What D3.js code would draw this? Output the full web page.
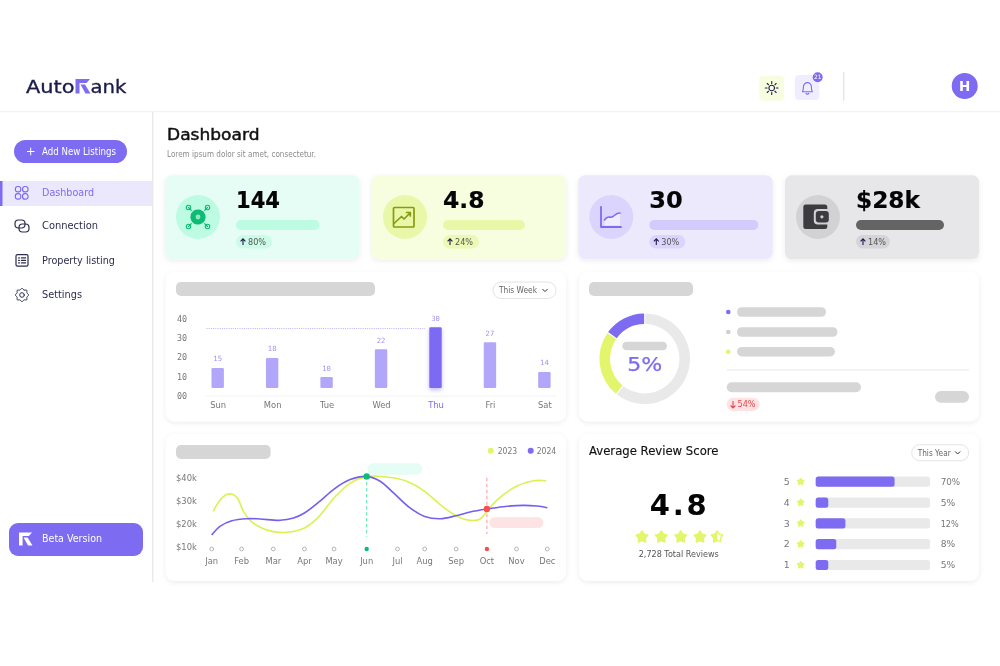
<!DOCTYPE html>
<html>
<head>
<meta charset="utf-8">
<script src="https://cdn.jsdelivr.net/npm/d3@7"></script>
<style>
  html, body { margin: 0; padding: 0; background: #fff; }
  svg { display: block; font-family: "DejaVu Sans", sans-serif; filter: blur(0.3px); }
  .mono text, text.mono { font-family: "DejaVu Sans Mono", monospace; }
</style>
</head>
<body>
<svg width="1000" height="666" viewBox="0 0 1000 666"></svg>
<script>
// week bars
const days = ["Sun", "Mon", "Tue", "Wed", "Thu", "Fri", "Sat"];
const dayLabels = [15, 18, 10, 22, 30, 27, 14];
const dayBars = [14.3, 19.5, 9.6, 24, 35.4, 27.6, 12.2];
const barFloor = 4;
const weekTicks = [0, 10, 20, 30, 40];
const weekGoal = 34.7;

// donut
const donutValues = [61, 24, 15];
const donutColors = ["#e9e9e9", "#e3f56b", "#7d6bf2"];

// revenue lines, month position + value in $k
const months = ["Jan", "Feb", "Mar", "Apr", "May", "Jun", "Jul", "Aug", "Sep", "Oct", "Nov", "Dec"];
const monthPos = [0, 0.98, 2.02, 3.04, 4.01, 5.08, 6.09, 6.98, 8.01, 9.02, 9.99, 11];
const moneyTicks = [10, 20, 30, 40];
const pos2024 = [0, 0.27, 0.66, 1.15, 1.58, 2.24, 2.68, 3.04, 3.55, 4.01, 4.54, 5.08, 5.52, 5.96, 6.5, 6.98, 7.49, 8.01, 8.47, 9.02, 9.56, 10.22, 10.66, 11];
const val2024 = [15.2, 19, 21.4, 22.3, 22.2, 21.6, 22.6, 24.8, 29.9, 35.2, 39.3, 40.7, 38.6, 33.5, 27, 23.3, 22.3, 23.6, 25.2, 26.5, 27.5, 28.1, 27.8, 27.1];
const pos2023 = [0.05, 0.27, 0.49, 0.66, 0.84, 1.04, 1.26, 1.58, 2.02, 2.46, 3.04, 3.44, 4.01, 4.54, 5.08, 5.74, 6.39, 6.98, 7.49, 8.01, 8.47, 8.8, 9.02, 9.34, 9.99, 10.55, 10.96];
const val2023 = [25.5, 30.3, 32.8, 33, 31.3, 25.5, 21.6, 18.6, 16.7, 16.4, 18.3, 22.2, 31.3, 37.8, 40.6, 40.4, 38.6, 34.2, 28.4, 23.6, 21.6, 22.2, 25.5, 30.3, 36.4, 38.8, 38.8];

// reviews
const ratingRows = [5, 4, 3, 2, 1];
const ratingLabels = ["70%", "5%", "12%", "8%", "5%"];
const ratingBars = [69, 11, 26, 18, 11];

// kpi cards
const kpiValues = ["144", "4.8", "30", "$28k"];
const kpiChanges = ["80%", "24%", "30%", "14%"];
const kpiBars = [83.5, 82, 109, 88];
const kpiBg = ["#e6fdf5", "#f7fddf", "#ece9fc", "#e7e7ea"];
const kpiCircle = ["#bdfbe2", "#e9f7a9", "#dbd5fd", "#d2d2d4"];
const kpiBarFill = ["#bdfbe2", "#e9f7a9", "#d3cbfc", "#646464"];
const kpiPill = ["#ccfbe9", "#ecf9b4", "#dbd5fd", "#d5d5d9"];

const navItems = ["Dashboard", "Connection", "Property listing", "Settings"];

const purple = "#7d6bf2", lime = "#e3f56b", grey = "#d6d6d6", ink = "#1c1c4a";

const svg = d3.select("svg");

const defs = svg.append("defs");
const shadow = defs.append("filter").attr("id", "soft").attr("x", "-5%").attr("y", "-5%").attr("width", "110%").attr("height", "115%");
shadow.append("feDropShadow").attr("dx", 0).attr("dy", 1.5).attr("stdDeviation", 2.5).attr("flood-color", "#000").attr("flood-opacity", 0.08);
const barGlow = defs.append("filter").attr("id", "glow").attr("x", "-60%").attr("y", "-10%").attr("width", "220%").attr("height", "125%");
barGlow.append("feDropShadow").attr("dx", 0).attr("dy", 2).attr("stdDeviation", 2).attr("flood-color", purple).attr("flood-opacity", 0.45);
defs.append("clipPath").attr("id", "halfStar").append("rect").attr("x", -10).attr("y", -10).attr("width", 10).attr("height", 20);

function rect(g, x, y, w, h, fill, r) {
  return g.append("rect").attr("x", x).attr("y", y).attr("width", w).attr("height", h).attr("fill", fill).attr("rx", r || 0);
}

// len stretches the text to the width measured on the picture
function label(g, x, y, str, size, fill, opts) {
  opts = opts || {};
  const t = g.append("text").attr("x", x).attr("y", y).text(str)
    .attr("font-size", size).attr("fill", fill)
    .attr("font-weight", opts.weight || 400)
    .attr("text-anchor", opts.anchor || "start");
  if (opts.len) t.attr("textLength", opts.len).attr("lengthAdjust", opts.adjust || "spacingAndGlyphs");
  if (opts.stroke) t.attr("stroke", fill).attr("stroke-width", opts.stroke);
  return t;
}

function icon(x, y, s) {
  return svg.append("g").attr("transform", `translate(${x},${y}) scale(${s || 1})`)
    .attr("fill", "none").attr("stroke-linecap", "round").attr("stroke-linejoin", "round");
}

function logoMark(x, y, s, color) {
  const g = svg.append("g").attr("transform", `translate(${x},${y}) scale(${s})`);
  g.append("path").attr("d", "M0 0H14.5L11 4H4V14.5H0Z").attr("fill", color);
  g.append("path").attr("d", "M5 5.5H9.5L15 14.5H10Z").attr("fill", color);
}

function chevron(x, y) {
  svg.append("path").attr("d", `M${x - 2.5} ${y - 1.2}L${x} ${y + 1.3}L${x + 2.5} ${y - 1.2}`)
    .attr("fill", "none").attr("stroke", "#333").attr("stroke-width", 1);
}

function dropdown(x, y, w, h, str, textLen) {
  rect(svg, x, y, w, h, "#fff", h / 2).attr("stroke", "#e4e4e4");
  label(svg, x + 6, y + h / 2 + 2.8, str, 8, "#666", { len: textLen });
  chevron(x + w - 11, y + h / 2);
}

// chubby five point star, the symbolStar one is too spiky here
function starPath(r) {
  const pts = d3.range(10).map(i => [i * Math.PI / 5, i % 2 ? r * 0.58 : r]);
  return d3.lineRadial().curve(d3.curveLinearClosed)(pts);
}

// header
svg.append("line").attr("x1", 0).attr("x2", 1000).attr("y1", 111.7).attr("y2", 111.7).attr("stroke", "#efeff1");
svg.append("line").attr("x1", 152.7).attr("x2", 152.7).attr("y1", 112).attr("y2", 582).attr("stroke", "#e9e9ec").attr("stroke-width", 1.4);

label(svg, 26, 93, "Auto", 18, ink, { len: 48.5, stroke: 0.35 });
logoMark(75.5, 79, 1, purple);
label(svg, 90.5, 93, "ank", 18, ink, { len: 36, stroke: 0.35 });

rect(svg, 759.3, 75.7, 24.7, 25, "#f7fddf", 4);
const sun = icon(771.7, 88).attr("stroke", ink).attr("stroke-width", 1.1);
sun.append("circle").attr("r", 2.8);
d3.range(8).forEach(i => {
  const a = i * Math.PI / 4;
  sun.append("line").attr("x1", 4.6 * Math.cos(a)).attr("y1", 4.6 * Math.sin(a)).attr("x2", 6.4 * Math.cos(a)).attr("y2", 6.4 * Math.sin(a));
});

rect(svg, 795, 75, 24.3, 25, "#f0eefe", 4);
icon(807.4, 88).attr("stroke", purple).attr("stroke-width", 1.1)
  .append("path").attr("d", "M-5 3.8C-4 2.5-4 1-4-1A4 4.4 0 0 1 4-1C4 1 4 2.5 5 3.8ZM-1.4 5.2A1.5 1.5 0 0 0 1.4 5.2");
svg.append("circle").attr("cx", 817.7).attr("cy", 77.3).attr("r", 5).attr("fill", purple);
label(svg, 817.7, 79.4, "21", 6, "#fff", { anchor: "middle" });

svg.append("line").attr("x1", 843.7).attr("x2", 843.7).attr("y1", 72).attr("y2", 100.7).attr("stroke", "#e6e6ea").attr("stroke-width", 1.5);
svg.append("circle").attr("cx", 964.7).attr("cy", 86).attr("r", 13).attr("fill", purple);
label(svg, 964.7, 91, "H", 13.5, "#fff", { anchor: "middle", weight: 600 });

// sidebar
rect(svg, 14, 140, 113, 23, purple, 11.5);
svg.append("path").attr("d", "M27 151.5H34.5M30.7 147.7V155.3").attr("stroke", "#fff").attr("stroke-width", 1);
label(svg, 42, 155, "Add New Listings", 9.8, "#fff", { len: 74 });

rect(svg, 0, 181, 152, 25, "#ebe8fd");
rect(svg, 0, 181, 2.5, 25, purple);

const navY = [192.6, 225.7, 260, 294.5];
navItems.forEach((n, i) => {
  label(svg, 42, navY[i] + 3.6, n, 10, i === 0 ? purple : "#2c2c4e", { len: [52, 56, 73, 40][i] });
});

const dash = icon(21.7, 192.8).attr("stroke", purple).attr("stroke-width", 1.2);
[[-3.6, -3.6], [3.6, -3.6], [-3.6, 3.6], [3.6, 3.6]].forEach(p => {
  dash.append("rect").attr("x", p[0] - 2.7).attr("y", p[1] - 2.7).attr("width", 5.4).attr("height", 5.4).attr("rx", 2.2);
});
const conn = icon(22, 226).attr("stroke", "#2c2c4e").attr("stroke-width", 1.2);
conn.append("rect").attr("x", -7).attr("y", -6).attr("width", 10).attr("height", 8).attr("rx", 3.5);
conn.append("rect").attr("x", -3).attr("y", -2).attr("width", 10).attr("height", 8).attr("rx", 3.5);
const prop = icon(22, 260.4).attr("stroke", "#2c2c4e").attr("stroke-width", 1.2);
prop.append("rect").attr("x", -6).attr("y", -5.8).attr("width", 12).attr("height", 11.6).attr("rx", 1.4);
[-2.5, 0, 2.5].forEach(y => {
  prop.append("path").attr("d", `M-3.4 ${y}H-2.6M-.6 ${y}H3.6`);
});
const gear = icon(22, 295).attr("stroke", "#2c2c4e").attr("stroke-width", 1);
gear.append("circle").attr("r", 2.3);
gear.append("path").attr("d", d3.lineRadial().curve(d3.curveCardinalClosed.tension(0.4))(
  d3.range(16).map(i => [i * Math.PI / 8, i % 2 ? 5.3 : 6.8])));

rect(svg, 9, 523, 134, 33, purple, 9);
logoMark(19, 532.5, 0.9, "#fff");
label(svg, 42, 542.2, "Beta Version", 10, "#fff", { len: 60 });

// page title
label(svg, 167, 140, "Dashboard", 15.5, "#111", { len: 92.5, stroke: 0.45 });
label(svg, 167, 157.3, "Lorem ipsum dolor sit amet, consectetur.", 8, "#8a8a8a", { len: 149 });

// kpi cards
const kpiX = [165, 372, 578.3, 785];
const kpiW = [194.5, 194, 194.4, 194];
kpiValues.forEach((v, i) => {
  const x = kpiX[i];
  rect(svg, x, 175.3, kpiW[i], 84, kpiBg[i], 7).attr("filter", "url(#soft)");
  svg.append("circle").attr("cx", x + 33).attr("cy", 217).attr("r", 22).attr("fill", kpiCircle[i]);
  label(svg, x + 71, 207.8, v, 23, "#050505", { weight: 700, len: [44, 41.5, 33.5, 64][i], stroke: 0.2 });
  rect(svg, x + 71, 220, kpiBars[i], 10, kpiBarFill[i], 5);
  rect(svg, x + 71, 235, [36, 36, 36, 34][i], 13.5, kpiPill[i], 6.7);
  svg.append("path").attr("d", `M${x + 78} ${245}V${239}M${x + 75.6} ${241.3}L${x + 78} ${238.8}L${x + 80.4} ${241.3}`)
    .attr("fill", "none").attr("stroke", ink).attr("stroke-width", 1.1);
  label(svg, x + 83, 244.8, kpiChanges[i], 8, "#555", { len: 18 });
});

// kpi icons
const hub = icon(198, 217).attr("stroke", "#0dbb75").attr("stroke-width", 1.1);
[[-9.5, -9.5], [9.5, -9.5], [-9.5, 9.5], [9.5, 9.5]].forEach(p => {
  hub.append("line").attr("x1", p[0] * 0.7).attr("y1", p[1] * 0.7).attr("x2", p[0]).attr("y2", p[1]);
  hub.append("circle").attr("cx", p[0]).attr("cy", p[1]).attr("r", 2.2);
});
hub.append("circle").attr("r", 6.6).attr("fill", "#0dbb75").attr("stroke-dasharray", "2 1.2").attr("stroke-width", 2);
hub.append("circle").attr("r", 2.4).attr("fill", "#8fe9c6").attr("stroke", "none");

const up = icon(404, 217).attr("stroke", "#8a9a10").attr("stroke-width", 1.7);
up.append("rect").attr("x", -10.5).attr("y", -9.5).attr("width", 20.5).attr("height", 19.5).attr("rx", 1);
up.append("path").attr("d", "M-10 6.5L-2.5 -.5L0 2L6-4M2.5-4.5H6.3V-1");

const trend = icon(611, 217).attr("stroke", purple).attr("stroke-width", 1.6);
trend.append("path").attr("d", "M-10-10V10H10").attr("stroke-width", 1.8);
trend.append("path").attr("d", "M-6.5 8.5V3C-3 -2 -2 1 1 0C4-1 4-4 9-4V8.5Z").attr("fill", "#efecff").attr("stroke", "none");
trend.append("path").attr("d", "M-6.5 3C-3 -2 -2 1 1 0C4-1 4-4 9-4");

const wallet = svg.append("g").attr("transform", "translate(817.3,217)");
rect(wallet, -14, -12.5, 24, 24.5, "#3b3b40", 2.5);
rect(wallet, -3.5, -8, 17, 15.5, "#d2d2d4", 4);
rect(wallet, -1.5, -6, 13, 11.5, "#3b3b40", 3);
wallet.append("circle").attr("cx", 4.6).attr("cy", -0.2).attr("r", 1.6).attr("fill", "#d2d2d4");

// white cards
[[165.7, 271.7, 400.3, 149.7], [579, 271.7, 400, 149.7], [165.7, 434, 400.3, 147], [579, 434, 400, 147]].forEach(c => {
  rect(svg, c[0], c[1], c[2], c[3], "#fff", 9).attr("filter", "url(#soft)");
});

// week bar chart
rect(svg, 176, 282, 199, 14, grey, 5);
dropdown(493, 282, 63, 16.5, "This Week", 38);

const yWeek = d3.scaleLinear().domain([0, 40]).range([395.7, 318.3]);
const xWeek = d3.scalePoint().domain(days).range([217.7, 544.4]);
const weekData = days.map((d, i) => ({ day: d, label: dayLabels[i], value: dayBars[i] }));

const yAxisWeek = svg.append("g").attr("class", "mono").attr("transform", "translate(187,0)")
  .call(d3.axisLeft(yWeek).tickValues(weekTicks).tickFormat(d3.format("02d")).tickSize(0).tickPadding(0));
yAxisWeek.select(".domain").remove();
yAxisWeek.selectAll("text").attr("font-size", 8.4).attr("fill", "#777").attr("font-family", "DejaVu Sans Mono");

svg.append("line").attr("x1", 206).attr("x2", 555.5).attr("y1", 396).attr("y2", 396).attr("stroke", "#f2f2f4");
svg.append("line").attr("x1", 206.5).attr("x2", 425).attr("y1", yWeek(weekGoal)).attr("y2", yWeek(weekGoal))
  .attr("stroke", "#a89cf8").attr("stroke-width", 0.8).attr("stroke-dasharray", "1 1.2");

svg.selectAll(".dayBar").data(weekData).enter().append("rect")
  .attr("class", "dayBar")
  .attr("x", d => xWeek(d.day) - 6.2)
  .attr("width", 12.4)
  .attr("y", d => yWeek(d.value))
  .attr("height", d => yWeek(barFloor) - yWeek(d.value))
  .attr("rx", 1.2)
  .attr("fill", d => d.day === "Thu" ? purple : "#b1a6fa")
  .attr("filter", d => d.day === "Thu" ? "url(#glow)" : null);

svg.selectAll(".dayVal").data(weekData).enter().append("text")
  .attr("class", "dayVal mono")
  .attr("x", d => xWeek(d.day))
  .attr("y", d => yWeek(d.value) - 6.6)
  .attr("text-anchor", "middle")
  .attr("font-size", 7.2)
  .attr("fill", "#a294f7")
  .text(d => d.label);

const xAxisWeek = svg.append("g").attr("transform", "translate(0,402)")
  .call(d3.axisBottom(xWeek).tickSize(0).tickPadding(0));
xAxisWeek.select(".domain").remove();
xAxisWeek.selectAll("text").attr("font-size", 8.4).attr("font-family", "DejaVu Sans")
  .attr("fill", d => d === "Thu" ? purple : "#777");

// donut card
rect(svg, 589, 282, 104, 14, grey, 5);
const pie = d3.pie().sort(null).padAngle(0.02);
const arc = d3.arc().innerRadius(34.7).outerRadius(45.3);
svg.append("g").attr("transform", "translate(644.7,358.7)")
  .selectAll("path").data(pie(donutValues)).enter().append("path")
  .attr("d", arc).attr("fill", (d, i) => donutColors[i]);
rect(svg, 622.3, 341.7, 44.7, 8.6, grey, 4.3);
label(svg, 644.7, 370.7, "5%", 19, purple, { anchor: "middle", len: 35, stroke: 0.25 });

const legendY = [312, 332, 351.7];
const legendW = [89, 100.5, 98];
const legendC = [purple, "#cfcfcf", lime];
legendY.forEach((y, i) => {
  svg.append("circle").attr("cx", 728.3).attr("cy", y).attr("r", 2.3).attr("fill", legendC[i]);
  rect(svg, 737, y - 4.8, legendW[i], 9.6, grey, 4.8);
});
svg.append("line").attr("x1", 726.7).attr("x2", 969).attr("y1", 370).attr("y2", 370).attr("stroke", "#e8e8ea");
rect(svg, 726.7, 382.3, 134.3, 10, grey, 5);
rect(svg, 935, 391, 34, 11.7, grey, 5.8);
rect(svg, 726.7, 397.7, 33, 13.3, "#fde3e3", 6.6);
svg.append("path").attr("d", "M733 401V408M730.6 405.5L733 408L735.4 405.5").attr("fill", "none").attr("stroke", "#e5484d").attr("stroke-width", 1.1);
label(svg, 737.5, 407.4, "54%", 8, "#e5484d", { len: 18 });

// revenue lines
rect(svg, 176, 445, 94.6, 14, grey, 5);
const xYear = d3.scaleLinear().domain([0, 11]).range([211.7, 547.3]);
const yYear = d3.scaleLinear().domain([10, 40]).range([547, 478]);

svg.append("circle").attr("cx", 490.7).attr("cy", 450.7).attr("r", 3).attr("fill", lime);
label(svg, 497.7, 453.8, "2023", 8.4, "#777", { len: 19.5 });
svg.append("circle").attr("cx", 530.7).attr("cy", 450.7).attr("r", 3).attr("fill", purple);
label(svg, 536.7, 453.8, "2024", 8.4, "#777", { len: 19.5 });

const yAxisYear = svg.append("g").attr("transform", "translate(176,0)")
  .call(d3.axisRight(yYear).tickValues(moneyTicks).tickFormat(d => "$" + d + "k").tickSize(0).tickPadding(0));
yAxisYear.select(".domain").remove();
yAxisYear.selectAll("text").attr("font-size", 8.4).attr("fill", "#777").attr("font-family", "DejaVu Sans");

const junX = xYear(monthPos[5]), octX = xYear(monthPos[9]);
rect(svg, 367.3, 463.3, 55, 11.4, "#e6fdf5", 5.7);
rect(svg, 489.3, 517.3, 54, 10.7, "#fde3e3", 5.3);
svg.append("line").attr("x1", junX).attr("x2", junX).attr("y1", 476).attr("y2", 536.7)
  .attr("stroke", "#5fe3b0").attr("stroke-width", 1).attr("stroke-dasharray", "3.5 2.5");
svg.append("line").attr("x1", octX).attr("x2", octX).attr("y1", 477.7).attr("y2", 534)
  .attr("stroke", "#ff9a9a").attr("stroke-width", 1).attr("stroke-dasharray", "3.5 2.5");

const line = d3.line().x(d => xYear(d[0])).y(d => yYear(d[1])).curve(d3.curveCatmullRom.alpha(0.5));
svg.append("path").attr("d", line(d3.zip(pos2023, val2023))).attr("fill", "none").attr("stroke", "#dcf150").attr("stroke-width", 1.6);
svg.append("path").attr("d", line(d3.zip(pos2024, val2024))).attr("fill", "none").attr("stroke", "#7360ee").attr("stroke-width", 1.6);

svg.append("circle").attr("cx", junX).attr("cy", yYear(val2024[11])).attr("r", 3.2).attr("fill", "#0dbb75");
svg.append("circle").attr("cx", octX).attr("cy", yYear(val2024[19])).attr("r", 3.2).attr("fill", "#fb4d4d");

monthPos.forEach((m, i) => {
  const c = svg.append("circle").attr("cx", xYear(m)).attr("cy", 549);
  if (i === 5 || i === 9) c.attr("r", 2.2).attr("fill", i === 5 ? "#0dbb75" : "#fb4d4d");
  else c.attr("r", 1.9).attr("fill", "#fff").attr("stroke", "#b5b5b5");
});

const xAxisYear = svg.append("g").attr("transform", "translate(-0.5,558)")
  .call(d3.axisBottom(xYear).tickValues(monthPos).tickFormat((d, i) => months[i]).tickSize(0).tickPadding(0));
xAxisYear.select(".domain").remove();
xAxisYear.selectAll("text").attr("font-size", 8.4).attr("fill", "#777").attr("font-family", "DejaVu Sans");

// review card
label(svg, 589, 455, "Average Review Score", 11.5, "#111", { len: 129.5, stroke: 0.15 });
dropdown(911.7, 444.7, 57, 16, "This Year", 33);
label(svg, 678.3, 515, "4.8", 29, "#050505", { anchor: "middle", weight: 700, len: 57, adjust: "spacing" });

const bigStarX = [642, 661.3, 680.7, 700];
bigStarX.forEach(x => {
  svg.append("path").attr("d", starPath(6.2)).attr("transform", `translate(${x},537)`)
    .attr("fill", lime).attr("stroke", lime).attr("stroke-width", 1.4).attr("stroke-linejoin", "round");
});
const lastStar = svg.append("g").attr("transform", "translate(717.3,537)");
lastStar.append("path").attr("d", starPath(5.8)).attr("fill", "#fff").attr("stroke", lime).attr("stroke-width", 1.4).attr("stroke-linejoin", "round");
lastStar.append("path").attr("d", starPath(6.2)).attr("fill", lime).attr("stroke", lime).attr("stroke-width", 1.4).attr("stroke-linejoin", "round").attr("clip-path", "url(#halfStar)");
label(svg, 678.7, 557.4, "2,728 Total Reviews", 8.8, "#555", { anchor: "middle", len: 80 });

const xRate = d3.scaleLinear().domain([0, 100]).range([815.7, 930]);
const yRate = d3.scalePoint().domain(ratingRows).range([481.7, 565]);
ratingRows.forEach((r, i) => {
  const y = yRate(r);
  label(svg, 786.7, y + 3.3, r, 9.4, "#777", { anchor: "middle" });
  svg.append("path").attr("d", starPath(3.7)).attr("transform", `translate(800.7,${y})`)
    .attr("fill", lime).attr("stroke", lime).attr("stroke-linejoin", "round");
  rect(svg, xRate(0), y - 5.1, xRate(100) - xRate(0), 10.2, "#e9e9e9", 2.5);
  rect(svg, xRate(0), y - 5.1, xRate(ratingBars[i]) - xRate(0), 10.2, purple, 2.5);
  label(svg, 940.7, y + 3.3, ratingLabels[i], 9.4, "#777", { len: [19.5, 14.5, 18, 14.5, 14.5][i] });
});
</script>
</body>
</html>
